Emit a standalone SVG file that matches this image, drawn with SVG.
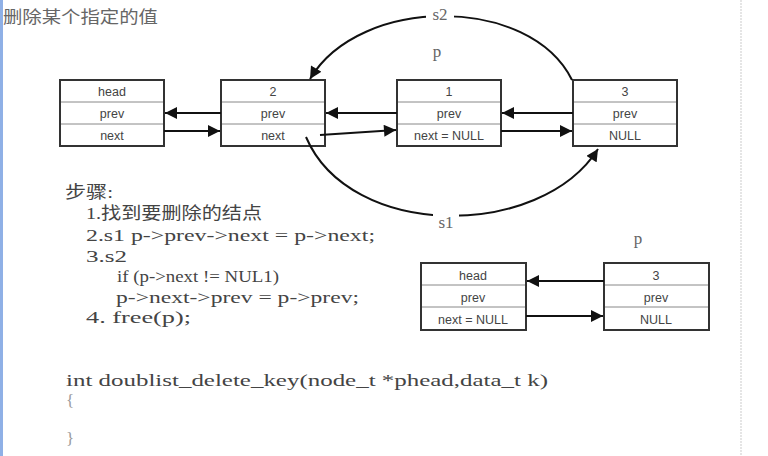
<svg xmlns="http://www.w3.org/2000/svg" width="768" height="456" viewBox="0 0 768 456">
<style>
.box{fill:#fff;stroke:#333;stroke-width:2}
.div{stroke:#888;stroke-width:1}
.cell{font-family:"Liberation Sans",Arial,sans-serif;font-size:12.5px;fill:#444;text-anchor:middle}
.ln{fill:none;stroke:#111;stroke-width:2}
.lab{font-family:"Liberation Serif","Noto Sans CJK SC",serif;font-size:17px;fill:#666}
.code{font-family:"Liberation Serif","Noto Sans CJK SC",serif;font-size:17px;fill:#444}
.title{font-family:"Noto Sans CJK SC",sans-serif;font-size:17px;fill:#666}
</style>
<defs>
<marker id="ah" viewBox="0 0 10 10" refX="10" refY="5" markerWidth="6.5" markerHeight="6" orient="auto" markerUnits="strokeWidth">
<path d="M0,0 L10,5 L0,10 z" fill="#111"/>
</marker>
</defs>
<rect x="0" y="0" width="768" height="456" fill="#fff"/>
<rect x="0" y="0" width="3" height="456" fill="#8fb0e6"/>
<line x1="741" y1="0" x2="741" y2="456" stroke="#ddd" stroke-width="1.5" stroke-dasharray="2,1"/>
<text class="title" x="3" y="23" textLength="155" lengthAdjust="spacingAndGlyphs">删除某个指定的值</text>

<g id="node-head">
<rect class="box" x="60" y="80" width="104" height="66"/>
<line class="div" x1="61" y1="102" x2="163" y2="102"/>
<line class="div" x1="61" y1="124" x2="163" y2="124"/>
<text class="cell" x="112" y="96">head</text>
<text class="cell" x="112" y="118">prev</text>
<text class="cell" x="112" y="140">next</text>
</g>
<g id="node-2">
<rect class="box" x="221" y="80" width="104" height="66"/>
<line class="div" x1="222" y1="102" x2="324" y2="102"/>
<line class="div" x1="222" y1="124" x2="324" y2="124"/>
<text class="cell" x="273" y="96">2</text>
<text class="cell" x="273" y="118">prev</text>
<text class="cell" x="273" y="140">next</text>
</g>
<g id="node-1">
<rect class="box" x="397" y="80" width="104" height="66"/>
<line class="div" x1="398" y1="102" x2="500" y2="102"/>
<line class="div" x1="398" y1="124" x2="500" y2="124"/>
<text class="cell" x="449" y="96">1</text>
<text class="cell" x="449" y="118">prev</text>
<text class="cell" x="449" y="140">next = NULL</text>
</g>
<g id="node-3">
<rect class="box" x="573" y="80" width="104" height="66"/>
<line class="div" x1="574" y1="102" x2="676" y2="102"/>
<line class="div" x1="574" y1="124" x2="676" y2="124"/>
<text class="cell" x="625" y="96">3</text>
<text class="cell" x="625" y="118">prev</text>
<text class="cell" x="625" y="140">NULL</text>
</g>
<g id="node-head-b">
<rect class="box" x="421" y="263" width="105" height="67"/>
<line class="div" x1="422" y1="285" x2="525" y2="285"/>
<line class="div" x1="422" y1="307" x2="525" y2="307"/>
<text class="cell" x="473" y="280">head</text>
<text class="cell" x="473" y="302">prev</text>
<text class="cell" x="473" y="324">next = NULL</text>
</g>
<g id="node-3-b">
<rect class="box" x="604" y="263" width="105" height="67"/>
<line class="div" x1="605" y1="285" x2="708" y2="285"/>
<line class="div" x1="605" y1="307" x2="708" y2="307"/>
<text class="cell" x="656" y="280">3</text>
<text class="cell" x="656" y="302">prev</text>
<text class="cell" x="656" y="324">NULL</text>
</g>

<g id="connectors">
<line class="ln" x1="221" y1="113" x2="165" y2="113" marker-end="url(#ah)"/>
<line class="ln" x1="164" y1="131" x2="220" y2="131" marker-end="url(#ah)"/>
<line class="ln" x1="397" y1="113" x2="326" y2="113" marker-end="url(#ah)"/>
<line class="ln" x1="320" y1="135" x2="396" y2="130" marker-end="url(#ah)"/>
<line class="ln" x1="573" y1="113" x2="502" y2="113" marker-end="url(#ah)"/>
<line class="ln" x1="501" y1="131" x2="572" y2="131" marker-end="url(#ah)"/>
<path class="ln" d="M572,80 C530,-5 360,-5 310,79" marker-end="url(#ah)"/>
<path class="ln" d="M306,137 C350,240 540,240 598,149" marker-end="url(#ah)"/>
<line class="ln" x1="604" y1="281" x2="527" y2="281" marker-end="url(#ah)"/>
<line class="ln" x1="526" y1="316" x2="603" y2="316" marker-end="url(#ah)"/>
</g>

<rect x="426" y="4" width="28" height="20" fill="#fff"/>
<text class="lab" x="440" y="20" text-anchor="middle">s2</text>
<rect x="433" y="210" width="26" height="20" fill="#fff"/>
<text class="lab" x="446" y="228" text-anchor="middle">s1</text>
<text class="lab" x="437" y="57" text-anchor="middle">p</text>
<text class="lab" x="638" y="244" text-anchor="middle">p</text>

<g id="steps" class="code">
<text x="65" y="198" textLength="48" lengthAdjust="spacingAndGlyphs">步骤:</text>
<text x="86" y="219" textLength="176" lengthAdjust="spacingAndGlyphs">1.找到要删除的结点</text>
<text x="86" y="241" textLength="289" lengthAdjust="spacingAndGlyphs">2.s1 p-&gt;prev-&gt;next = p-&gt;next;</text>
<text x="86" y="262" textLength="41" lengthAdjust="spacingAndGlyphs">3.s2</text>
<text x="117" y="282" textLength="162" lengthAdjust="spacingAndGlyphs">if (p-&gt;next != NUL1)</text>
<text x="116" y="303" textLength="243" lengthAdjust="spacingAndGlyphs">p-&gt;next-&gt;prev = p-&gt;prev;</text>
<text x="86" y="323" textLength="105" lengthAdjust="spacingAndGlyphs">4.  free(p);</text>
<text x="66" y="386" textLength="482" lengthAdjust="spacingAndGlyphs">int doublist_delete_key(node_t *phead,data_t k)</text>
<text x="66" y="406" fill="#999">{</text>
<text x="66" y="444" fill="#999">}</text>
</g>
</svg>
